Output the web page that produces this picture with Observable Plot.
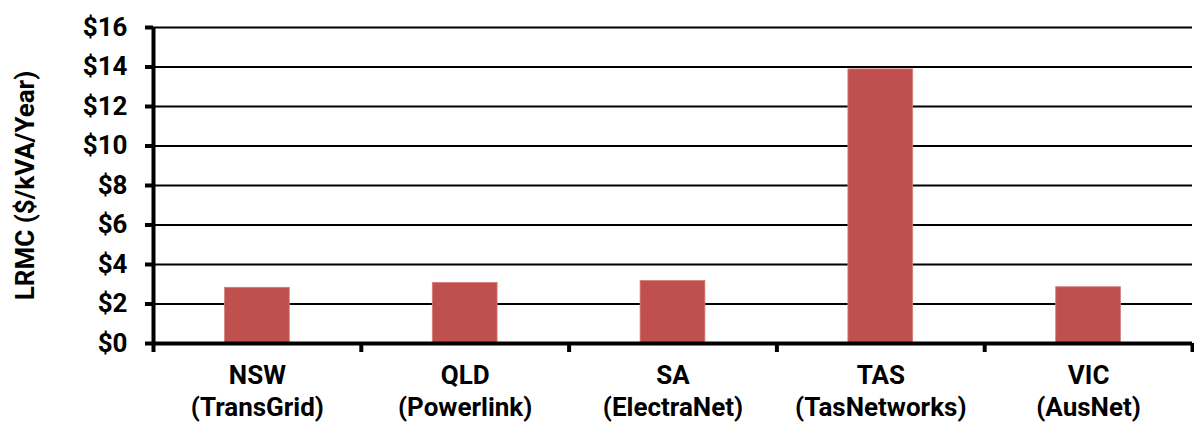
<!DOCTYPE html>
<html>
<head>
<meta charset="utf-8">
<script src="https://cdn.jsdelivr.net/npm/d3@7"></script>
<script src="https://cdn.jsdelivr.net/npm/@observablehq/plot@0.6"></script>
<style>
  html, body { margin: 0; padding: 0; background: #fff; }
  #chart svg { display: block; }
</style>
</head>
<body>
<div id="chart"></div>
<script>
// Long-run marginal cost by transmission network
const regions = ["NSW", "QLD", "SA", "TAS", "VIC"];
const operators = ["TransGrid", "Powerlink", "ElectraNet", "TasNetworks", "AusNet"];
const lrmc = [2.82, 3.07, 3.17, 13.88, 2.85];
const yTicks = [0, 2, 4, 6, 8, 10, 12, 14, 16];
const yTitle = "LRMC ($/kVA/Year)";

const rows = regions.map((r, i) => ({
  i,
  region: r,
  operator: `(${operators[i]})`,
  value: lrmc[i]
}));

const font = "Roboto, 'Noto Sans', sans-serif";
const fs = 26;

const chart = Plot.plot({
  width: 1194,
  height: 423,
  marginLeft: 153,
  marginRight: 2,
  marginTop: 27,
  marginBottom: 80,
  style: { fontFamily: font, fontSize: fs + "px", fontWeight: "bold", color: "#000", background: "#fff" },
  x: { domain: [0, regions.length], axis: null },
  y: { domain: [0, 16], axis: null },
  marks: [
    // horizontal gridlines
    Plot.ruleY(yTicks.filter(d => d > 0), { stroke: "#000", strokeWidth: 2 }),
    // bars
    Plot.rectY(rows, {
      x1: "i",
      x2: d => d.i + 1,
      y: "value",
      insetLeft: 71.5,
      insetRight: 71.5,
      fill: "#c0504d",
      stroke: "#d4807d",
      strokeWidth: 0.8
    }),
    // y axis ticks and labels
    Plot.axisY({
      ticks: yTicks,
      tickFormat: d => "$" + d,
      tickSize: 8,
      tickPadding: 18,
      strokeWidth: 4,
      fontSize: fs,
      fontWeight: "bold",
      label: null
    }),
    // category boundary ticks
    Plot.axisX({
      ticks: d3.range(regions.length + 1),
      tickSize: 9,
      strokeWidth: 4,
      tickFormat: () => "",
      label: null
    }),
    // axis lines
    Plot.ruleX([0], { stroke: "#000", strokeWidth: 4 }),
    Plot.ruleY([0], { stroke: "#000", strokeWidth: 4 }),
    // category labels: region on the first line, operator below
    Plot.text(rows, {
      x: d => d.i + 0.5,
      text: "region",
      frameAnchor: "bottom",
      lineAnchor: "middle",
      dy: 32,
      fontSize: fs,
      fontWeight: "bold",
      fill: "#000"
    }),
    Plot.text(rows, {
      x: d => d.i + 0.5,
      text: "operator",
      frameAnchor: "bottom",
      lineAnchor: "middle",
      dy: 64,
      fontSize: fs,
      fontWeight: "bold",
      fill: "#000"
    }),
    // y axis title
    Plot.text([yTitle], {
      frameAnchor: "left",
      textAnchor: "middle",
      rotate: -90,
      dx: -128,
      lineAnchor: "middle",
      fontSize: fs,
      fontWeight: "bold",
      fill: "#000"
    })
  ]
});

document.getElementById("chart").appendChild(chart);
</script>
</body>
</html>
